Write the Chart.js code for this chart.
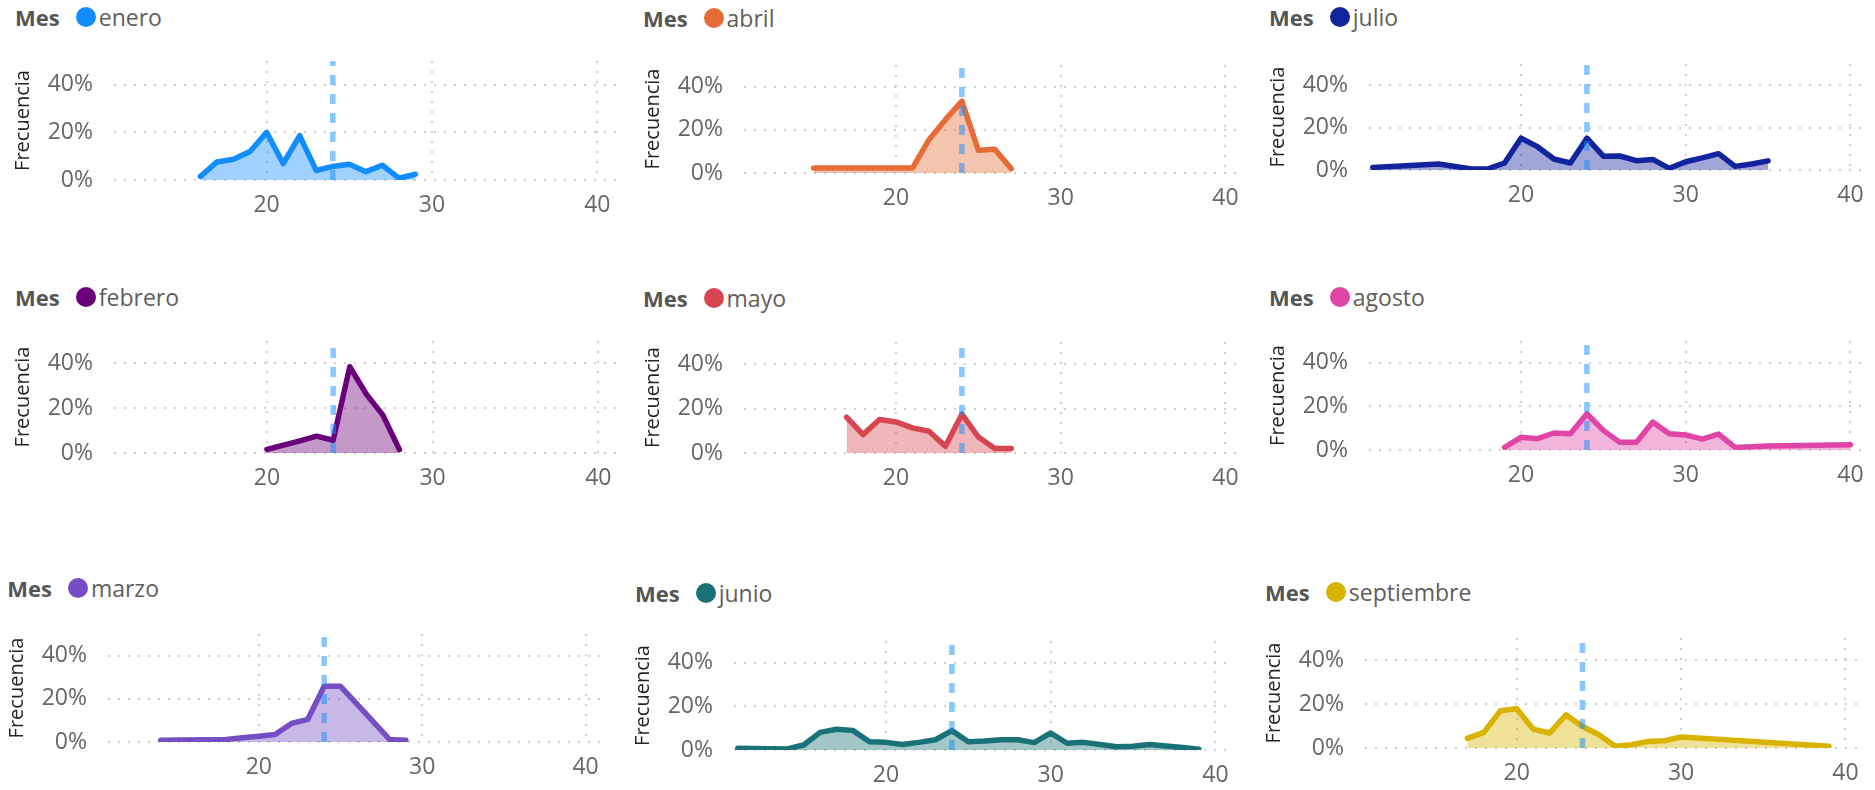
<!DOCTYPE html>
<html>
<head>
<meta charset="utf-8">
<script src="https://cdn.jsdelivr.net/npm/chart.js@4.4.1/dist/chart.umd.min.js"></script>
<style>
  html, body { margin: 0; padding: 0; background: #fff; }
  body { width: 1875px; height: 790px; position: relative; overflow: hidden; }
  canvas { position: absolute; }
  .hdr {
    position: absolute; display: flex; align-items: center; white-space: nowrap;
    transform: translateY(-50%);
    font-family: 'Open Sans', sans-serif; font-size: 23px; color: #605E5C;
  }
  .hdr b { font-weight: 700; font-size: 22px; color: #555; }
  .hdr .dot { width: 20px; height: 20px; border-radius: 50%; margin-left: 16px; margin-right: 3px; }
</style>
</head>
<body>
<script>
// Month names and colours, in panel order (row by row)
const meses = ['enero', 'abril', 'julio', 'febrero', 'mayo', 'agosto', 'marzo', 'junio', 'septiembre'];
const colores = ['#118DFF', '#E66C37', '#12239E', '#6B007B', '#D64550', '#E044A7', '#744EC2', '#197278', '#D9B300'];

// Edad (x) and Frecuencia in % (y) per month
const eneroX = [16, 17, 18, 19, 20, 21, 22, 23, 24, 25, 26, 27, 28, 29];
const eneroY = [1.5, 7.6, 8.7, 12, 20, 6.9, 18.6, 4, 5.7, 6.6, 3.5, 6.2, 0.8, 2.4];
const abrilX = [15, 21, 22, 23, 24, 25, 26, 27];
const abrilY = [2.3, 2.3, 15.4, 24.7, 33.3, 10.5, 11, 2];
const julioX = [11, 15, 17, 18, 19, 20, 21, 22, 23, 24, 25, 26, 27, 28, 29, 30, 31, 32, 33, 34, 35];
const julioY = [1.2, 2.8, 0.5, 0.5, 3.3, 15, 11, 5.2, 3.3, 15, 6.5, 6.6, 4.4, 5, 0.8, 3.9, 5.7, 7.7, 1.7, 2.8, 4.3];
const febreroX = [20, 21, 22, 23, 24, 25, 26, 27, 28];
const febreroY = [1.6, 3.5, 5.4, 7.5, 5.7, 38.5, 26.3, 16.9, 1.5];
const mayoX = [17, 18, 19, 20, 21, 22, 23, 24, 25, 26, 27];
const mayoY = [16.1, 8.3, 15.1, 14, 11.3, 9.8, 3, 17.5, 7.2, 2, 2];
const agostoX = [19, 20, 21, 22, 23, 24, 25, 26, 27, 28, 29, 30, 31, 32, 33, 35, 40];
const agostoY = [1.2, 5.8, 5.2, 7.8, 7.5, 16.6, 9, 3.5, 3.5, 12.8, 7.5, 6.9, 5, 7.3, 1.2, 1.8, 2.4];
const marzoX = [14, 18, 19, 20, 21, 22, 23, 24, 25, 26, 27, 28, 29];
const marzoY = [0.8, 1.2, 2, 2.7, 3.5, 8.6, 10.5, 25.8, 25.8, 17.6, 9.4, 1.2, 0.8];
const junioX = [11, 14, 15, 16, 17, 18, 19, 20, 21, 22, 23, 24, 25, 26, 27, 28, 29, 30, 31, 32, 33, 34, 35, 36, 37, 38, 39];
const junioY = [0.8, 0.5, 2.3, 8.1, 9.5, 8.9, 3.8, 3.5, 2.5, 3.5, 4.7, 8.9, 3.8, 4.1, 4.7, 4.7, 3.4, 7.8, 3.1, 3.5, 2.5, 1.5, 1.7, 2.5, 1.8, 1.1, 0.3];
const septiembreX = [17, 18, 19, 20, 21, 22, 23, 24, 25, 26, 27, 28, 29, 30, 39];
const septiembreY = [4.4, 7.1, 16.9, 17.8, 8.6, 6.8, 15.1, 9.8, 6, 0.8, 1.5, 3, 3.3, 5, 0.8];

const seriesX = [eneroX, abrilX, julioX, febreroX, mayoX, agostoX, marzoX, junioX, septiembreX];
const seriesY = [eneroY, abrilY, julioY, febreroY, mayoY, agostoY, marzoY, junioY, septiembreY];

// Axis ticks and the reference line (mean age)
const xTicks = [20, 30, 40];
const yTicks = [0, 0.2, 0.4];
const edadMedia = 24;

// Plot box of each panel on the page: left, top, width, bottom, header x, header y
const marcos = [
  [113.6, 61.2, 502.3, 180.3, 15.1, 16.7],
  [744.2, 64.7, 499.7, 172.7, 642.9, 18.3],
  [1369.2, 63.5, 499.7, 169.3, 1269.1, 16.7],
  [113.6, 341, 502.5, 452.7, 15.1, 297.3],
  [744.2, 342.2, 499.7, 452.7, 642.9, 298.3],
  [1369.2, 341.2, 499.7, 450.3, 1269.1, 296.7],
  [108.2, 634.3, 496.4, 742.7, 7.2, 588.3],
  [734.1, 640.6, 500, 749.3, 635, 593.3],
  [1364.7, 638, 498.8, 748.3, 1265.1, 592.3]
];

const AXIS_W = 110, AXIS_H = 45, PAD_TOP = 18, PAD_RIGHT = 4;
const FONT = "'Open Sans', sans-serif";

function withAlpha(hex, a) {
  const n = parseInt(hex.slice(1), 16);
  return `rgba(${n >> 16}, ${(n >> 8) & 255}, ${n & 255}, ${a})`;
}

// tick marks are invisible; their length only sets the label gap
const gridX = { color: '#cfcfcf', lineWidth: 2, drawTicks: true, tickLength: 12, tickColor: 'rgba(0,0,0,0)' };
const gridY = { color: '#cfcfcf', lineWidth: 2, drawTicks: true, tickLength: 21, tickColor: 'rgba(0,0,0,0)' };
const borderOpts = { display: false, dash: [2, 8] };

meses.forEach((mes, i) => {
  const [left, top, width, bottom, hx, hy] = marcos[i];
  const color = colores[i];

  // header: "Mes" + legend dot + month
  const hdr = document.createElement('div');
  hdr.className = 'hdr';
  hdr.style.left = hx + 'px';
  hdr.style.top = hy + 'px';
  hdr.innerHTML = `<b>Mes</b><span class="dot" style="background:${color}"></span><span>${mes}</span>`;
  document.body.appendChild(hdr);

  const canvas = document.createElement('canvas');
  const cw = Math.round(AXIS_W + width + PAD_RIGHT);
  const ch = Math.round(bottom - top + PAD_TOP + AXIS_H);
  canvas.width = cw;
  canvas.height = ch;
  canvas.style.width = cw + 'px';
  canvas.style.height = ch + 'px';
  canvas.style.left = (left - AXIS_W) + 'px';
  canvas.style.top = (top - PAD_TOP) + 'px';
  document.body.appendChild(canvas);

  new Chart(canvas, {
    type: 'line',
    data: {
      datasets: [
        {
          data: seriesX[i].map((x, k) => ({ x: x, y: seriesY[i][k] / 100 })),
          borderColor: color,
          backgroundColor: withAlpha(color, 0.4),
          fill: 'origin',
          borderWidth: 5.5,
          borderJoinStyle: 'round',
          borderCapStyle: 'round',
          pointRadius: 0,
          tension: 0
        },
        {
          // dashed line at the mean age, drawn on top
          data: [{ x: edadMedia, y: 0 }, { x: edadMedia, y: 0.5 }],
          borderColor: 'rgba(17, 141, 255, 0.5)',
          borderWidth: 5.5,
          borderDash: [10, 9],
          pointRadius: 0,
          fill: false,
          order: -1
        }
      ]
    },
    options: {
      responsive: false,
      animation: false,
      events: [],
      layout: { padding: { top: PAD_TOP, right: PAD_RIGHT, left: 0, bottom: 0 } },
      plugins: { legend: { display: false }, tooltip: { enabled: false } },
      scales: {
        x: {
          type: 'linear',
          min: 10.77,
          max: 41.13,
          afterBuildTicks: s => { s.ticks = xTicks.map(v => ({ value: v })); },
          afterFit: s => { s.height = AXIS_H; },
          grid: gridX,
          border: borderOpts,
          ticks: { padding: 0, color: '#666', font: { family: FONT, size: 23 }, maxRotation: 0 }
        },
        y: {
          min: 0,
          max: 0.5,
          afterBuildTicks: s => { s.ticks = yTicks.map(v => ({ value: v })); },
          afterFit: s => { s.width = AXIS_W; },
          grid: gridY,
          border: borderOpts,
          ticks: {
            padding: 0,
            color: '#666',
            font: { family: FONT, size: 23 },
            callback: v => Math.round(v * 100) + '%'
          },
          title: {
            display: true,
            text: 'Frecuencia',
            color: '#252423',
            font: { family: FONT, size: 20 },
            padding: { top: 7.5, bottom: 0 }
          }
        }
      }
    }
  });
});
</script>
</body>
</html>
